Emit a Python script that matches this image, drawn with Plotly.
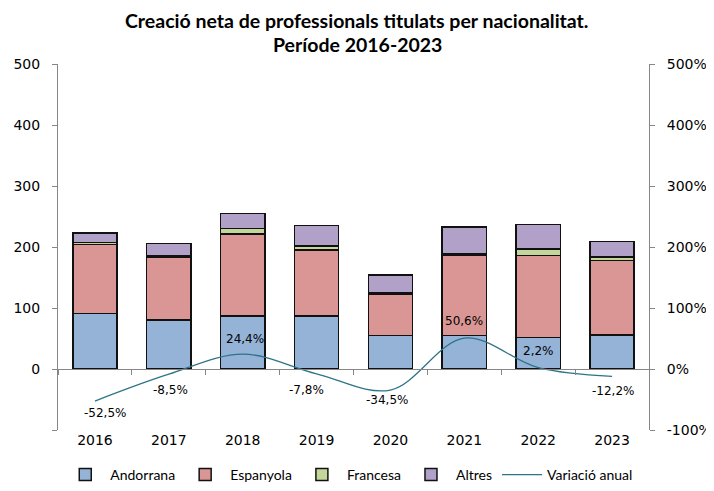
import plotly.graph_objects as go

years = ["2016", "2017", "2018", "2019", "2020", "2021", "2022", "2023"]
andorrana = [91, 80, 87, 87, 55, 55, 52, 56]
espanyola = [113, 104, 134, 108, 68, 132, 134, 122]
francesa = [3, 2, 9, 7, 2, 2, 11, 6]
altres = [16, 20, 25, 33, 29, 44, 40, 25]
variacio = [-52.5, -8.5, 24.4, -7.8, -34.5, 50.6, 2.2, -12.2]
left_ticks = [-100, 0, 100, 200, 300, 400, 500]

# label offsets (px) for the line's data labels
lab_dx = [10, 2, 2, -10, -3, 0, 0, 1]
lab_dy = [-12, -16, 15, -16, -10, 17, 17, -15]

AX = "#868686"
TICKF = dict(family="DejaVu Sans", size=14, color="#000000")

fig = go.Figure()
for name, vals, col in [("Andorrana", andorrana, "#95B3D7"),
                        ("Espanyola", espanyola, "#DA9694"),
                        ("Francesa", francesa, "#C4D79B"),
                        ("Altres", altres, "#B1A0C7")]:
    fig.add_trace(go.Bar(x=years, y=vals, name=name, xaxis="x", yaxis="y",
                         marker=dict(color=col, line=dict(color="#111111", width=1.5))))

fig.add_trace(go.Scatter(x=years, y=variacio, name="Variació anual", mode="lines",
                         xaxis="x2", yaxis="y2",
                         line=dict(color="#2B7489", width=1.3, shape="spline", smoothing=1)))

annotations = []
for i, v in enumerate(variacio):
    annotations.append(dict(x=i, y=v, xref="x2", yref="y2", showarrow=False,
                            text=(f"{v:.1f}".replace(".", ",") + "%"),
                            xshift=lab_dx[i], yshift=lab_dy[i],
                            font=dict(family="DejaVu Sans", size=12, color="#000000")))

annotations.append(dict(x=0.506, y=1.1175, xref="paper", yref="paper", showarrow=False,
                        text="<b>Creació neta de professionals titulats per nacionalitat.</b>",
                        font=dict(family="Lato", size=19.5, color="#000000"), yanchor="middle"))
annotations.append(dict(x=0.506, y=1.0546, xref="paper", yref="paper", showarrow=False,
                        text="<b>Període 2016-2023</b>",
                        font=dict(family="Lato", size=19.5, color="#000000"), yanchor="middle"))

# the page body adds an 8px offset, so the figure is 8px smaller on each axis
fig.update_layout(
    width=706, height=483,
    margin=dict(l=50, r=65, t=56, b=61),
    paper_bgcolor="white", plot_bgcolor="white",
    barmode="stack", bargap=0.4,
    showlegend=True,
    legend=dict(orientation="h", x=0.492, xanchor="center", xref="paper",
                y=-0.0186, yanchor="bottom", yref="container", itemwidth=40,
                font=dict(family="Lato", size=14, color="#000000"), traceorder="normal"),
    xaxis=dict(type="category", range=[-0.5, 7.5], showline=False, ticks="",
               showgrid=False, zeroline=False, tickfont=TICKF, anchor="y",
               automargin=False),
    xaxis2=dict(type="category", categoryarray=years, categoryorder="array",
                overlaying="x", anchor="free", position=1/6, range=[-0.5, 7.5],
                showline=True, linecolor=AX, linewidth=1, ticks="outside",
                tickson="boundaries", ticklen=5, tickcolor=AX, automargin=False,
                showticklabels=False, showgrid=False, zeroline=False),
    yaxis=dict(range=[-100, 500], tickvals=left_ticks,
               ticktext=["" if t < 0 else str(t) for t in left_ticks],
               showline=True, linecolor=AX, ticks="outside", ticklen=5, tickcolor=AX,
               ticklabelstandoff=9,
               showgrid=False, zeroline=False, tickfont=TICKF, automargin=False),
    yaxis2=dict(range=[-100, 500], tickvals=left_ticks,
                ticktext=[f"{t}%" for t in left_ticks], overlaying="y", side="right",
                anchor="x2", showline=True, linecolor=AX, ticks="outside", ticklen=5,
                tickcolor=AX, ticklabelstandoff=9,
                showgrid=False, zeroline=False, tickfont=TICKF,
                automargin=False),
    annotations=annotations,
)

fig.write_html("out.html")
